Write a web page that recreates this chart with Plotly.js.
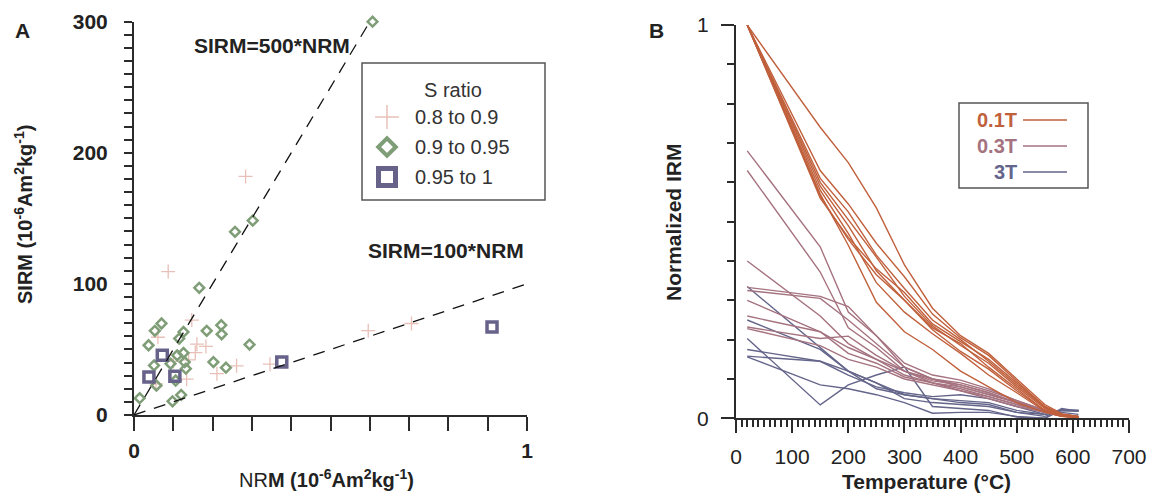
<!DOCTYPE html>
<html><head><meta charset="utf-8">
<script src="https://cdn.plot.ly/plotly-3.0.1.min.js"></script>
<style>html,body{margin:0;padding:0;background:#fff}</style>
</head><body><div id="chart" style="width:1154px;height:494px"></div>
<script>
// ---------- Panel A data ----------
const plusNRM  = [0.087,0.284,0.147,0.061,0.160,0.183,0.156,0.139,0.100,0.261,0.211,0.134,0.056,0.346,0.596,0.706];
const plusSIRM = [109.4,182,72.4,59.3,54,52.3,47.6,42,40.9,37.5,31.5,27.3,23.8,38.8,64.3,69.8];
const diaNRM  = [0.607,0.302,0.257,0.166,0.070,0.053,0.126,0.185,0.222,0.223,0.037,0.115,0.294,0.126,0.110,0.129,0.132,0.051,0.093,0.202,0.234,0.106,0.057,0.0145,0.098,0.120];
const diaSIRM = [300,148.3,139.7,97,69.8,64.2,63.4,64.2,68.5,61.6,53.2,58.3,53.7,47.3,45.5,40.4,35.3,37.8,39.1,40.4,36.1,26.3,22.5,12.8,10.4,15.3];
const sqNRM  = [0.072,0.038,0.104,0.376,0.911];
const sqSIRM = [45.5,28.9,29.6,40.4,67.2];
const ref500NRM = [0,0.6],  ref500SIRM = [0,300];
const ref100NRM = [0,1],    ref100SIRM = [0,100];
const xTickValsA = [0,0.1,0.2,0.3,0.4,0.5,0.6,0.7,0.8,0.9,1];
const xTickTextA = ['0','','','','','','','','','','1'];
const yTickValsA = [0,100,200,300];
const sRatioLabels = ['0.8 to 0.9','0.9 to 0.95','0.95 to 1'];

// ---------- Panel B data ----------
const temps = [20,150,200,250,300,350,400,450,500,550,580,610];
const irm01T = [
 [1,0.74,0.65,0.535,0.39,0.28,0.21,0.165,0.10,0.035,0.012,0.005],
 [1,0.63,0.545,0.445,0.36,0.265,0.205,0.16,0.095,0.03,0.01,0.004],
 [1,0.61,0.525,0.415,0.33,0.25,0.2,0.145,0.085,0.028,0.01,0.005],
 [1,0.60,0.505,0.41,0.31,0.235,0.185,0.14,0.08,0.025,0.008,0.003],
 [1,0.59,0.49,0.375,0.30,0.225,0.17,0.125,0.07,0.02,0.006,0.003],
 [1,0.58,0.47,0.345,0.27,0.215,0.165,0.11,0.065,0.018,0.005,0.002],
 [1,0.57,0.44,0.295,0.22,0.175,0.12,0.08,0.04,0.015,0.005,0.002],
 [1,0.565,0.455,0.365,0.30,0.23,0.19,0.13,0.075,0.02,0.006,0.002],
 [1,0.56,0.46,0.38,0.32,0.24,0.195,0.15,0.09,0.03,0.01,0.004]
];
const irm03T = [
 [0.68,0.436,0.27,0.21,0.13,0.10,0.08,0.06,0.04,0.02,0.01,0.005],
 [0.63,0.372,0.23,0.18,0.12,0.09,0.07,0.05,0.03,0.015,0.008,0.004],
 [0.40,0.26,0.19,0.15,0.11,0.09,0.075,0.055,0.035,0.015,0.006,0.003],
 [0.333,0.31,0.284,0.21,0.14,0.11,0.097,0.075,0.045,0.02,0.008,0.004],
 [0.325,0.305,0.25,0.19,0.13,0.10,0.085,0.065,0.04,0.018,0.007,0.003],
 [0.30,0.22,0.18,0.15,0.12,0.10,0.09,0.07,0.045,0.02,0.008,0.004],
 [0.26,0.22,0.165,0.14,0.105,0.09,0.08,0.06,0.04,0.018,0.007,0.003],
 [0.232,0.203,0.209,0.16,0.12,0.095,0.085,0.065,0.04,0.015,0.006,0.003],
 [0.228,0.185,0.15,0.13,0.10,0.085,0.07,0.055,0.035,0.015,0.006,0.003]
];
const irm3T = [
 [0.335,0.18,0.12,0.09,0.05,0.04,0.035,0.03,0.015,0.01,0.02,0.02],
 [0.25,0.175,0.12,0.09,0.06,0.05,0.045,0.04,0.02,0.01,0.022,0.02],
 [0.203,0.034,0.085,0.11,0.131,0.03,0.025,0.02,0.003,0.0,0.025,0.018],
 [0.175,0.145,0.12,0.075,0.06,0.05,0.04,0.035,0.015,0.005,0.02,0.018],
 [0.158,0.145,0.11,0.08,0.065,0.055,0.06,0.05,0.03,0.01,0.015,0.01],
 [0.156,0.085,0.075,0.06,0.04,0.013,0.015,0.015,0.005,0.0,0.02,0.02]
];
const fieldLabels = ['0.1T','0.3T','3T'];

// ---------- styling ----------
const W = 1154, H = 494;
const FONT = 'Liberation Sans, Arial, Helvetica, sans-serif';
const INK = '#2b2b2b';
const C_PLUS = 'rgba(214,140,125,0.55)', C_DIA = '#7f9d77', C_SQ = '#67628a';
const C01 = '#c0603c', C03 = '#a5727f', C3 = '#64658a';
const px = x => x / W, py = y => 1 - y / H;

const traces = [];
// Panel A markers
traces.push({x: plusNRM, y: plusSIRM, xaxis:'x', yaxis:'y', type:'scatter', mode:'markers', cliponaxis:false,
  marker:{symbol:'cross-thin-open', size:10, color:C_PLUS, line:{width:1.3, color:C_PLUS}}, hoverinfo:'skip'});
traces.push({x: diaNRM, y: diaSIRM, xaxis:'x', yaxis:'y', type:'scatter', mode:'markers', cliponaxis:false,
  marker:{symbol:'diamond-open', size:7.5, color:C_DIA, line:{width:2.5, color:C_DIA}}, hoverinfo:'skip'});
traces.push({x: sqNRM, y: sqSIRM, xaxis:'x', yaxis:'y', type:'scatter', mode:'markers', cliponaxis:false,
  marker:{symbol:'square-open', size:10, color:C_SQ, line:{width:3.5, color:C_SQ}}, hoverinfo:'skip'});
// reference lines
traces.push({x: ref500NRM, y: ref500SIRM, xaxis:'x', yaxis:'y', type:'scatter', mode:'lines',
  line:{color:'#111', width:1.3, dash:'12px,9px'}, hoverinfo:'skip'});
traces.push({x: ref100NRM, y: ref100SIRM, xaxis:'x', yaxis:'y', type:'scatter', mode:'lines',
  line:{color:'#111', width:1.3, dash:'12px,9px'}, hoverinfo:'skip'});

// Panel B lines
[[irm3T, C3], [irm03T, C03], [irm01T, C01]].forEach(([set, col]) => {
  set.forEach(vals => traces.push({x: temps, y: vals, xaxis:'x2', yaxis:'y2', type:'scatter', mode:'lines',
    line:{color: col, width:1.4}, hoverinfo:'skip'}));
});

// Legend A symbols (full-page pixel axes)
const legSym = ['cross-thin-open','diamond-open','square-open'];
const legCol = [C_PLUS, C_DIA, C_SQ];
const legSize = [17, 13.5, 17];
const legLW = [1.5, 4, 5];
const legY = [117, 147, 177];
legSym.forEach((s, i) => traces.push({x:[387], y:[legY[i]], xaxis:'x3', yaxis:'y3', type:'scatter', mode:'markers', cliponaxis:false,
  marker:{symbol:s, size:legSize[i], color:legCol[i], line:{width:legLW[i], color:legCol[i]}}, hoverinfo:'skip'}));

const baseAx = {showline:true, linecolor:INK, linewidth:2, ticks:'outside', tickcolor:INK, tickwidth:2,
  showgrid:false, zeroline:false, fixedrange:true};

const annotations = [];
const ann = (text, x, y, opts) => annotations.push(Object.assign({text, x:px(x), y:py(y), xref:'paper', yref:'paper',
  showarrow:false, xanchor:'center', yanchor:'middle', font:{family:FONT, size:21, color:'#222', weight:'bold'}}, opts||{}));

ann('A', 22, 30);
ann('B', 656, 30);
ann('SIRM=500*NRM', 272, 45);
ann('SIRM=100*NRM', 446, 251);
ann('SIRM (10<sup>-6</sup>Am<sup>2</sup>kg<sup>-1</sup>)', 23, 215, {textangle:-90, font:{family:FONT,size:20,color:'#222',weight:'bold'}});
ann('NR<b>M (10<sup>-6</sup>Am<sup>2</sup>kg<sup>-1</sup>)</b>', 326, 478, {font:{family:FONT,size:20,color:'#222'}});
ann('Normalized IRM', 673, 222, {textangle:-90});
ann('Temperature (°C)', 926, 481);
ann('S ratio', 453, 90, {font:{family:FONT,size:20,color:'#333'}});
sRatioLabels.forEach((t, i) => ann(t, 413, legY[i], {xanchor:'left', font:{family:FONT,size:20,color:'#333'}}));
const legBY = [120, 146, 172];
const legBCol = [C01, C03, C3];
fieldLabels.forEach((t, i) => ann(t, 1019, legBY[i], {xanchor:'right', font:{family:FONT,size:20,color:legBCol[i],weight:'bold'}}));

const shapes = [
  {type:'rect', xref:'paper', yref:'paper', x0:px(362), x1:px(545), y0:py(63), y1:py(200), line:{color:'#555', width:1.5}},
  {type:'rect', xref:'paper', yref:'paper', x0:px(959), x1:px(1088), y0:py(103), y1:py(188), line:{color:'#555', width:1.5}}
];
legBY.forEach((y, i) => shapes.push({type:'line', xref:'paper', yref:'paper', x0:px(1023), x1:px(1067), y0:py(y), y1:py(y),
  line:{color:legBCol[i], width:1.6}}));

const layout = {
  width:W, height:H, margin:{l:0,r:0,t:0,b:0}, paper_bgcolor:'#fff', plot_bgcolor:'rgba(0,0,0,0)',
  showlegend:false, font:{family:FONT, color:'#222'},
  xaxis: Object.assign({}, baseAx, {domain:[px(134), px(527)], range:[0,1], anchor:'y',
    tickmode:'array', tickvals:xTickValsA, ticktext:xTickTextA, ticklen:14, ticklabelstandoff:2,
    tickfont:{family:FONT, size:21, color:'#222', weight:'bold'}}),
  yaxis: Object.assign({}, baseAx, {domain:[py(415), py(21.7)], range:[0,300], anchor:'x',
    tickmode:'array', tickvals:yTickValsA, ticklen:8, ticklabelstandoff:12,
    minor:{dtick:10, tick0:0, ticklen:8, tickwidth:2, tickcolor:INK, ticks:'outside'},
    tickfont:{family:FONT, size:21, color:'#222', weight:'bold'}}),
  xaxis2: Object.assign({}, baseAx, {domain:[px(736), px(1129)], range:[0,700], anchor:'y2',
    tickmode:'linear', tick0:0, dtick:100, ticklen:13, ticklabelstandoff:5,
    minor:{dtick:10, tick0:0, ticklen:7, tickwidth:2, tickcolor:INK, ticks:'outside'},
    tickfont:{family:FONT, size:21, color:'#222'}}),
  yaxis2: Object.assign({}, baseAx, {domain:[py(418.3), py(25)], range:[0,1], anchor:'x2',
    tickmode:'array', tickvals:[0,1], ticklen:13, ticklabelstandoff:8,
    minor:{dtick:0.1, tick0:0, ticklen:7, tickwidth:2, tickcolor:INK, ticks:'outside'},
    tickfont:{family:FONT, size:21, color:'#222'}}),
  xaxis3: {domain:[0,1], range:[0,W], visible:false, fixedrange:true, anchor:'y3'},
  yaxis3: {domain:[0,1], range:[H,0], visible:false, fixedrange:true, anchor:'x3'},
  annotations, shapes
};

Plotly.newPlot('chart', traces, layout, {staticPlot:true, displayModeBar:false});
</script></body></html>
